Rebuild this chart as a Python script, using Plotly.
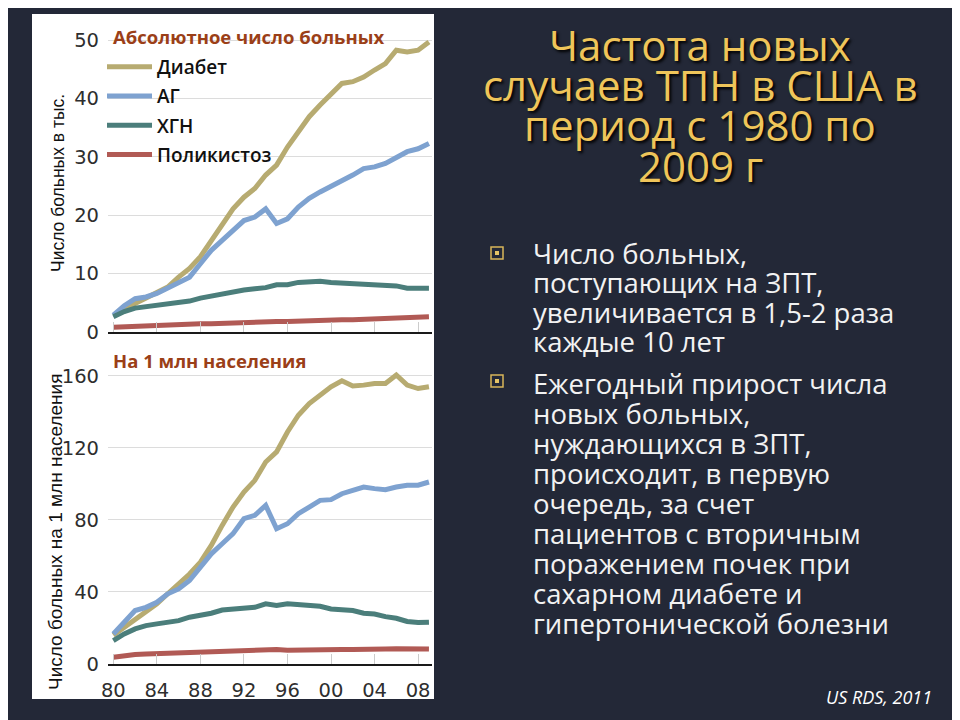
import plotly.graph_objects as go

years = list(range(1980, 2010))

# Absolute numbers, thousands
abs_diabetes = [2.8, 3.6, 4.9, 5.8, 6.6, 7.7, 9.4, 10.9, 12.9, 15.7, 18.6, 21.1, 23.1, 24.6, 26.9,
                28.6, 31.7, 34.3, 36.9, 38.9, 40.9, 42.6, 42.9, 43.7, 44.9, 46.0, 48.3, 48.0, 48.3, 49.7]
abs_ag = [2.9, 4.5, 5.7, 6.0, 6.6, 7.6, 8.6, 9.4, 11.7, 14.0, 15.7, 17.4, 19.1, 19.7, 21.1,
          18.6, 19.4, 21.4, 22.9, 24.0, 24.9, 26.0, 26.9, 28.0, 28.3, 28.9, 30.0, 30.9, 31.4, 32.3]
abs_hgn = [2.6, 3.5, 4.1, 4.3, 4.5, 4.7, 5.0, 5.3, 5.8, 6.2, 6.5, 7.0, 7.2, 7.4, 7.6,
           8.1, 8.1, 8.5, 8.6, 8.7, 8.5, 8.4, 8.4, 8.2, 8.2, 8.0, 7.9, 7.5, 7.4, 7.5]
abs_poly = [0.8, 0.9, 1.0, 1.1, 1.1, 1.2, 1.3, 1.3, 1.4, 1.4, 1.5, 1.6, 1.6, 1.7, 1.7,
            1.8, 1.8, 1.9, 2.0, 2.0, 2.0, 2.1, 2.1, 2.2, 2.2, 2.3, 2.5, 2.5, 2.5, 2.6]

# Per 1 million population
pm_diabetes = [16.0, 20.4, 25.0, 28.8, 33.4, 39.0, 44.5, 50.0, 56.6, 65.9, 77.0, 87.2, 95.5, 102.0, 112.2,
               117.8, 128.9, 138.2, 144.7, 149.4, 154.0, 157.3, 154.4, 154.9, 155.8, 155.8, 160.5, 154.9, 153.0, 154.0]
pm_ag = [16.7, 23.0, 29.7, 31.5, 34.3, 39.0, 41.7, 46.4, 53.8, 61.2, 66.8, 72.4, 80.7, 82.6, 88.1,
         75.1, 77.9, 83.5, 87.2, 90.9, 91.3, 94.6, 96.5, 98.3, 97.4, 96.8, 98.3, 99.3, 99.3, 101.1]
pm_hgn = [13.0, 16.7, 19.5, 21.3, 22.3, 23.2, 24.1, 26.0, 26.9, 28.2, 30.0, 30.6, 31.0, 31.5, 33.4,
          32.5, 33.4, 32.8, 32.5, 32.1, 30.6, 30.0, 29.7, 28.2, 27.8, 26.3, 25.4, 23.6, 23.0, 23.2]
pm_poly = [3.7, 4.6, 5.3, 5.6, 5.8, 6.0, 6.2, 6.5, 6.7, 6.9, 7.2, 7.4, 7.6, 7.8, 7.9,
           8.0, 7.7, 7.9, 8.0, 8.1, 8.0, 8.1, 8.0, 7.9, 8.0, 8.3, 8.5, 8.4, 8.5, 8.3]

series_names = ["Диабет", "АГ", "ХГН", "Поликистоз"]
colors = ["#b7ab71", "#7ea2d0", "#4b7e7b", "#b15a55"]

x_tickvals = [1980, 1984, 1988, 1992, 1996, 2000, 2004, 2008]
x_ticktext = ["80", "84", "88", "92", "96", "00", "04", "08"]
top_yticks = [0, 10, 20, 30, 40, 50]
bottom_yticks = [0, 40, 80, 120, 160]

title_lines = ["Частота новых", "случаев ТПН в США в", "период с 1980 по", "2009 г"]
bullet1 = ["Число больных,", "поступающих на ЗПТ,", "увеличивается в 1,5-2 раза", "каждые 10 лет"]
bullet2 = ["Ежегодный прирост числа", "новых больных,", "нуждающихся в ЗПТ,", "происходит, в первую",
           "очередь, за счет", "пациентов с вторичным", "поражением почек при",
           "сахарном диабете и", "гипертонической болезни"]

W, H = 960, 720
OFF = 8  # page offset of the figure in the browser window


def px_x(p):
    return (p - OFF) / W


def px_y(p):
    return 1 - (p - OFF) / H


fig = go.Figure()

for name, col, ys in zip(series_names, colors, [abs_diabetes, abs_ag, abs_hgn, abs_poly]):
    fig.add_trace(go.Scatter(x=years, y=ys, mode="lines", name=name, legendgroup=name,
                             line=dict(color=col, width=5), xaxis="x", yaxis="y",
                             hoverinfo="skip"))
for name, col, ys in zip(series_names, colors, [pm_diabetes, pm_ag, pm_hgn, pm_poly]):
    fig.add_trace(go.Scatter(x=years, y=ys, mode="lines", name=name, legendgroup=name,
                             showlegend=False, line=dict(color=col, width=5),
                             xaxis="x2", yaxis="y2", hoverinfo="skip"))

xdom = [px_x(108), px_x(432)]
xrange_ = [1979.51, 2009.28]
tick_font = dict(family="DejaVu Sans", size=19.5, color="#2e2e2e")

common_x = dict(domain=xdom, range=xrange_, showgrid=False, zeroline=False,
                showline=True, linecolor="#1a1a1a", linewidth=1.5,
                ticks="inside", ticklen=10, tickcolor="#cccccc", tickwidth=1,
                tickvals=x_tickvals, ticktext=x_ticktext, tickfont=tick_font,
                ticklabelstandoff=8, automargin=False)
common_y = dict(showgrid=True, gridcolor="#dcdcdc", gridwidth=1, zeroline=False,
                showline=False, ticks="", tickfont=tick_font, ticklabelstandoff=8,
                automargin=False)

fig.update_layout(
    template="none",
    width=W, height=H,
    margin=dict(l=0, r=0, t=0, b=0, pad=0, autoexpand=False),
    paper_bgcolor="#232837",
    plot_bgcolor="rgba(0,0,0,0)",
    showlegend=True,
    xaxis=dict(common_x, anchor="y", showticklabels=False),
    yaxis=dict(common_y, domain=[px_y(332), px_y(28)], range=[0, 52.1], tickvals=top_yticks,
               anchor="x"),
    xaxis2=dict(common_x, anchor="y2"),
    yaxis2=dict(common_y, domain=[px_y(664), px_y(370)], range=[0, 163.3], tickvals=bottom_yticks,
                anchor="x2"),
    legend=dict(x=px_x(102), y=px_y(48), xanchor="left", yanchor="top",
                bgcolor="rgba(0,0,0,0)", tracegroupgap=1.5, itemwidth=45,
                font=dict(family="Open Sans", size=19, color="#111111", weight=600)),
)

# white panel
fig.add_shape(type="rect", xref="paper", yref="paper", x0=px_x(32), x1=px_x(434),
              y0=px_y(699), y1=px_y(14), fillcolor="white", line=dict(width=0), layer="below")

annotations = []
# chart titles
for txt, ypx in [("Абсолютное число больных", 37), ("На 1 млн населения", 360)]:
    annotations.append(dict(text=txt, x=px_x(111), y=px_y(ypx), xref="paper", yref="paper",
                            xanchor="left", yanchor="middle", showarrow=False,
                            font=dict(family="Open Sans", size=18.5, color="#9b3f18", weight=700)))
# axis titles
for txt, ypx, xpx, fs in [("Число больных в тыс.", 183, 58, 17.5),
                          ("Число больных на 1 млн населения", 532, 55, 19)]:
    annotations.append(dict(text=txt, x=px_x(xpx), y=px_y(ypx), xref="paper", yref="paper",
                            xanchor="center", yanchor="middle", showarrow=False, textangle=-90,
                            font=dict(family="Liberation Sans", size=fs, color="#111111")))
# slide title
for i, line in enumerate(title_lines):
    annotations.append(dict(text=line, x=px_x(700), y=px_y(44 + i * 40.5), xref="paper", yref="paper",
                            xanchor="center", yanchor="middle", showarrow=False,
                            font=dict(family="Open Sans", size=42, color="#efc55a",
                                      shadow="2px 2px 3px #000000")))
# bullets text
for i, line in enumerate(bullet1):
    annotations.append(dict(text=line, x=px_x(531), y=px_y(253 + i * 29.5), xref="paper", yref="paper",
                            xanchor="left", yanchor="middle", showarrow=False,
                            font=dict(family="Open Sans", size=27.5, color="#f2f2f2")))
for i, line in enumerate(bullet2):
    annotations.append(dict(text=line, x=px_x(531), y=px_y(383 + i * 30), xref="paper", yref="paper",
                            xanchor="left", yanchor="middle", showarrow=False,
                            font=dict(family="Open Sans", size=27.5, color="#f2f2f2")))
# source
annotations.append(dict(text="<i>US RDS, 2011</i>", x=px_x(934), y=px_y(697), xref="paper", yref="paper",
                        xanchor="right", yanchor="middle", showarrow=False,
                        font=dict(family="Open Sans", size=18, color="#ffffff")))
fig.update_layout(annotations=annotations)

# bullet squares
for cy in [253, 381]:
    fig.add_shape(type="rect", xref="paper", yref="paper", x0=px_x(491), x1=px_x(503),
                  y0=px_y(cy + 6), y1=px_y(cy - 6), line=dict(color="#d9b55a", width=1.5),
                  fillcolor="rgba(0,0,0,0)")
    fig.add_shape(type="rect", xref="paper", yref="paper", x0=px_x(495), x1=px_x(499),
                  y0=px_y(cy + 2), y1=px_y(cy - 2), line=dict(width=0), fillcolor="#e6c466")

fig.write_html("out.html")
